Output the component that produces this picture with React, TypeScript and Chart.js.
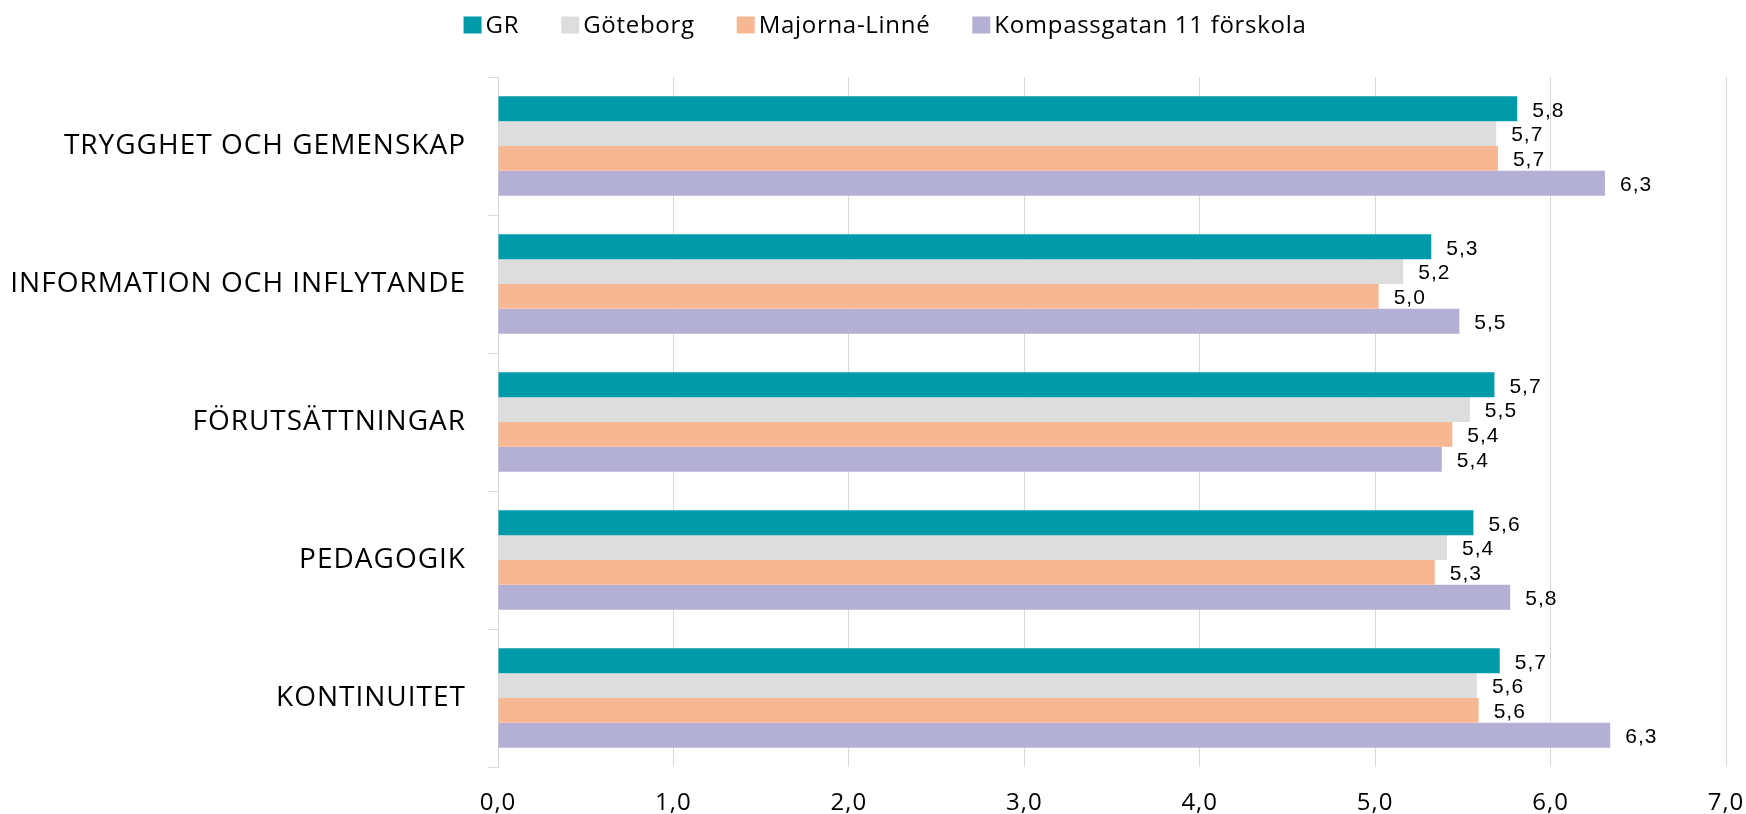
import React, { useEffect, useRef } from 'react';
import { Chart, registerables } from 'chart.js';

Chart.register(...registerables);

const categories = [
  'TRYGGHET OCH GEMENSKAP',
  'INFORMATION OCH INFLYTANDE',
  'FÖRUTSÄTTNINGAR',
  'PEDAGOGIK',
  'KONTINUITET',
];
const seriesNames = ['GR', 'Göteborg', 'Majorna-Linné', 'Kompassgatan 11 förskola'];
const grValues = [5.81, 5.32, 5.68, 5.56, 5.71];
const goteborgValues = [5.69, 5.16, 5.54, 5.41, 5.58];
const majornaValues = [5.7, 5.02, 5.44, 5.34, 5.59];
const kompassValues = [6.31, 5.48, 5.38, 5.77, 6.34];
const seriesColors = ['#009BAA', '#DDDDDD', '#F8B793', '#B4AFD4'];
const xMin = 0;
const xMax = 7;
const xStep = 1;

const fmt = (v: number) => v.toFixed(1).replace('.', ',');

const spacingPlugin = {
  id: 'spacing',
  beforeDraw(chart: any) {
    chart.ctx.letterSpacing = '1px';
  },
};

const valueLabels = {
  id: 'valueLabels',
  afterDatasetsDraw(chart: any) {
    const ctx = chart.ctx;
    ctx.save();
    ctx.letterSpacing = '1px';
    ctx.font = '21px "Liberation Sans", Arial, sans-serif';
    ctx.fillStyle = '#000';
    ctx.textAlign = 'left';
    ctx.textBaseline = 'middle';
    chart.data.datasets.forEach((ds: any, i: number) => {
      const meta = chart.getDatasetMeta(i);
      meta.data.forEach((el: any, j: number) => {
        ctx.fillText(fmt(ds.data[j]), el.x + 15, el.y + 2);
      });
    });
    ctx.restore();
  },
};

const customLegend = {
  id: 'customLegend',
  afterDraw(chart: any) {
    const ctx = chart.ctx;
    ctx.save();
    ctx.letterSpacing = '0.7px';
    ctx.font = '24px "Open Sans"';
    ctx.textBaseline = 'middle';
    ctx.textAlign = 'left';
    const box = 18;
    const gapBox = 4;
    const gapItem = 42;
    const items = chart.data.datasets.map((ds: any) => ({
      label: ds.label,
      color: ds.backgroundColor,
      w: ctx.measureText(ds.label).width,
    }));
    let total = 0;
    items.forEach((it: any, i: number) => {
      total += box + gapBox + it.w + (i < items.length - 1 ? gapItem : 0);
    });
    let x = chart.width / 2 + 12 - total / 2;
    const cy = 25;
    items.forEach((it: any) => {
      ctx.fillStyle = it.color;
      ctx.fillRect(x, cy - 8.5, box, 17);
      ctx.fillStyle = '#000';
      ctx.fillText(it.label, x + box + gapBox, cy + 1);
      x += box + gapBox + it.w + gapItem;
    });
    ctx.restore();
  },
};

export default function App() {
  const ref = useRef<HTMLCanvasElement | null>(null);
  useEffect(() => {
    document.body.style.margin = '0';
    if (!ref.current) return;
    Chart.defaults.font.family = '"Open Sans"';
    const valueSets = [grValues, goteborgValues, majornaValues, kompassValues];
    const chart = new Chart(ref.current, {
      type: 'bar',
      data: {
        labels: categories,
        datasets: seriesNames.map((name, i) => ({
          label: name,
          data: valueSets[i],
          backgroundColor: seriesColors[i],
          borderWidth: 0,
          barPercentage: 1,
          categoryPercentage: 0.72,
        })),
      },
      options: {
        indexAxis: 'y',
        responsive: false,
        animation: false,
        devicePixelRatio: 1,
        layout: { padding: { top: 77, left: 0, right: 0, bottom: 0 } },
        plugins: {
          legend: { display: false },
          tooltip: { enabled: false },
        },
        scales: {
          x: {
            min: xMin,
            max: xMax,
            ticks: {
              stepSize: xStep,
              callback: (v: any) => fmt(Number(v)),
              font: { size: 24, family: '"Open Sans"' },
              color: '#000',
              padding: 22,
            },
            grid: { color: '#d9d9d9', drawTicks: false, lineWidth: 1 },
            border: { display: false },
            afterFit: (scale: any) => {
              scale.height = 47;
              scale.paddingRight = 20;
            },
          },
          y: {
            ticks: {
              font: { size: 28, family: '"Open Sans"' },
              color: '#000',
              padding: 22,
            },
            grid: {
              drawOnChartArea: false,
              drawTicks: true,
              tickLength: 10,
              color: '#d9d9d9',
              offset: true,
            },
            border: { display: true, color: '#d9d9d9' },
            afterFit: (scale: any) => {
              scale.width = 498;
            },
          },
        },
      },
      plugins: [spacingPlugin, valueLabels, customLegend],
    });
    return () => chart.destroy();
  }, []);
  return (
    <div style={{ width: 1746, height: 814 }}>
      <canvas ref={ref} width={1746} height={814} style={{ display: 'block' }} />
    </div>
  );
}
